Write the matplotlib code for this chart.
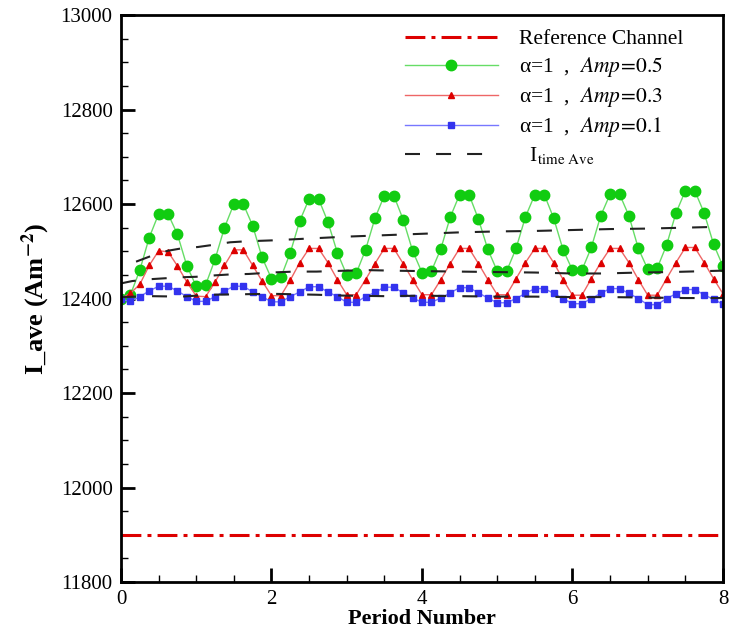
import matplotlib
matplotlib.use("Agg")
import matplotlib.pyplot as plt
from matplotlib.ticker import MultipleLocator
import numpy as np

plt.rcParams['font.family'] = ['Liberation Serif', 'DejaVu Serif']
plt.rcParams['mathtext.fontset'] = 'stix'

# sample times, 8 samples per period
period = np.linspace(0, 8, 65)

# current density for each pulsation amplitude
amp05 = [12400, 12408, 12460, 12529, 12579, 12579, 12536, 12469,
         12426, 12429, 12483, 12550, 12600, 12600, 12554, 12487,
         12442, 12445, 12497, 12564, 12611, 12611, 12562, 12497,
         12450, 12453, 12503, 12570, 12618, 12618, 12567, 12501,
         12455, 12458, 12505, 12572, 12620, 12620, 12568, 12504,
         12458, 12458, 12506, 12573, 12620, 12620, 12570, 12503,
         12460, 12460, 12508, 12575, 12621, 12621, 12575, 12506,
         12462, 12464, 12513, 12581, 12628, 12628, 12581, 12515,
         12468]
amp03 = [12400, 12411, 12430, 12470, 12501, 12499, 12469, 12435,
         12405, 12404, 12435, 12470, 12503, 12503, 12470, 12437,
         12406, 12406, 12439, 12476, 12506, 12506, 12476, 12440,
         12408, 12408, 12440, 12474, 12506, 12506, 12474, 12440,
         12408, 12408, 12440, 12474, 12506, 12506, 12474, 12440,
         12408, 12408, 12442, 12476, 12506, 12506, 12476, 12440,
         12407, 12407, 12442, 12476, 12506, 12506, 12476, 12440,
         12407, 12407, 12442, 12476, 12508, 12508, 12476, 12442,
         12410]
amp01 = [12398, 12394, 12404, 12416, 12426, 12426, 12416, 12404,
         12394, 12394, 12404, 12416, 12426, 12426, 12414, 12404,
         12393, 12393, 12404, 12414, 12425, 12425, 12414, 12404,
         12392, 12392, 12404, 12413, 12424, 12424, 12412, 12401,
         12392, 12392, 12401, 12412, 12423, 12423, 12412, 12401,
         12391, 12391, 12400, 12411, 12421, 12421, 12411, 12400,
         12389, 12389, 12400, 12411, 12421, 12421, 12411, 12400,
         12387, 12387, 12400, 12410, 12419, 12419, 12408, 12398,
         12388]

# time averaged values
ave05_t = [0.2, 0.4, 0.62, 0.8, 1.02, 1.2, 1.45, 1.65, 2.0, 2.5, 3.0,
           3.5, 4.0, 4.5, 5.0, 5.5, 6.0, 6.5, 7.0, 7.5, 8.0]
ave05 = [12478, 12490, 12501, 12506, 12509, 12513, 12519, 12521, 12523,
         12527, 12531, 12534, 12537, 12540, 12542, 12543, 12545, 12547,
         12548, 12550, 12552]
ave03_t = [0.0, 0.15, 0.4, 0.6, 0.8, 1.0, 1.25, 1.45, 1.7, 2.0, 2.3, 2.6,
           3.0, 3.3, 3.6, 4.0, 4.5, 5.0, 5.5, 6.0, 6.4, 6.9, 7.3, 8.0]
ave03 = [12432, 12437, 12441, 12443, 12445, 12446, 12449, 12451, 12452,
         12455, 12457, 12457, 12459, 12460, 12459, 12458, 12457, 12456,
         12455, 12453, 12453, 12455, 12456, 12459]
ave01_t = [0.0, 0.4, 0.8, 1.2, 1.6, 2.0, 2.6, 3.0, 3.5, 4.0, 4.5, 5.0,
           5.5, 6.0, 6.5, 7.0, 7.5, 8.0]
ave01 = [12403, 12405, 12404, 12408, 12409, 12410, 12408, 12406, 12405,
         12406, 12405, 12404, 12404, 12403, 12403, 12402, 12401, 12401]

ref_level = 11900

fig = plt.figure(figsize=(7.32, 6.34), dpi=100)
ax = fig.add_axes([0.1653, 0.082, 0.8224, 0.8943])

ax.plot([0, 8], [ref_level, ref_level], color='#dd0000', lw=2.2,
        linestyle=(0, (6.5, 2.0, 1.3, 2.0)), label='Reference Channel')
ax.plot(period, amp05, color='#66dd66', lw=1.0, marker='o', ms=7.5,
        mfc='#11cc11', mec='#11cc11',
        label=r'α=1  ,  $\mathit{Amp}\!=\!\mathit{0.5}$')
ax.plot(period, amp03, color='#ee6666', lw=1.0, marker='^', ms=5,
        mfc='#dd0000', mec='#dd0000',
        label=r'α=1  ,  $\mathit{Amp}\!=\!\mathit{0.3}$')
ax.plot(period, amp01, color='#7777ff', lw=1.0, marker='s', ms=4.5,
        mfc='#3333ee', mec='#3333ee',
        label=r'α=1  ,  $\mathit{Amp}\!=\!\mathit{0.1}$')

dash = (0, (7.2, 7.7))
ax.plot(ave05_t, ave05, color='#222222', lw=1.5, linestyle=dash,
        label=r'  I$_{\rm time\ Ave}$')
ax.plot(ave03_t, ave03, color='#222222', lw=1.5, linestyle=dash)
ax.plot(ave01_t, ave01, color='#222222', lw=1.5, linestyle=dash)

ax.set_xlim(0, 8)
ax.set_ylim(11800, 13000)
ax.xaxis.set_major_locator(MultipleLocator(2))
ax.xaxis.set_minor_locator(MultipleLocator(0.5))
ax.yaxis.set_major_locator(MultipleLocator(200))
ax.yaxis.set_minor_locator(MultipleLocator(50))
ax.tick_params(which='major', direction='in', length=10, width=2,
               labelsize=15, pad=6)
ax.tick_params(which='minor', direction='in', length=5, width=1)
for s in ax.spines.values():
    s.set_linewidth(2)

ax.set_xlabel('Period Number', fontsize=16, fontweight='bold', labelpad=0)
ax.set_ylabel(r'I_ave (Am$^{\mathbf{-2}}$)', fontsize=19, fontweight='bold',
              labelpad=6)

ax.legend(loc='upper left', bbox_to_anchor=(0.472, 0.975), frameon=False,
          fontsize=15.5, handlelength=4.3, handletextpad=1.0,
          labelspacing=0.28, borderpad=0, borderaxespad=0)

fig.savefig('out.png', dpi=100)
